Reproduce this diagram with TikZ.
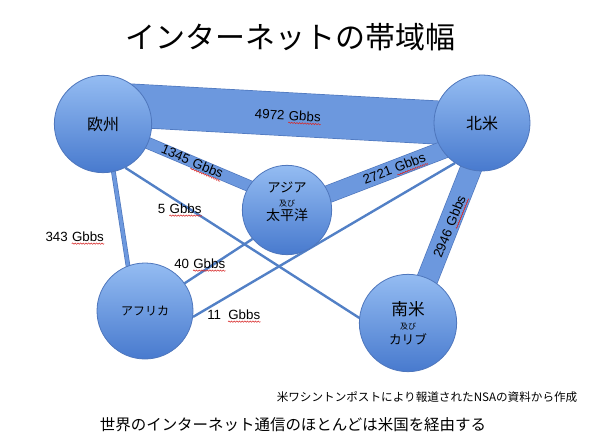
\documentclass[tikz,border=0pt]{standalone}
\usepackage{fontspec}
\setmainfont{Liberation Sans}
\newfontfamily\jp{Noto Sans CJK JP}
\usetikzlibrary{calc, backgrounds, decorations.pathmorphing}

\definecolor{rimblue}{RGB}{78,118,188}
\definecolor{topblue}{RGB}{148,188,242}
\definecolor{lowblue}{RGB}{72,122,206}
\definecolor{bandblue}{RGB}{108,152,222}
\definecolor{linkblue}{RGB}{82,128,198}
\definecolor{wavered}{RGB}{215,40,40}

\newcommand\gbbs{\tikz[baseline=(gword.base)]{\node[inner sep=0pt] (gword) {Gbbs};
    \draw[wavered, line width=0.4pt, decorate, decoration={snake, segment length=2pt, amplitude=0.5pt}]
    ([yshift=-1.6pt]gword.south west) -- ([yshift=-1.6pt]gword.south east);}}

\tikzset{
  region/.style={circle, draw=rimblue, line width=0.6pt, top color=topblue,
    bottom color=lowblue, minimum size=#1, inner sep=0pt, align=center},
  band/.style={draw=rimblue, line width=0.5pt, double=bandblue, double distance=#1},
  link/.style={draw=linkblue, line width=1.8pt},
  rate/.style={font=\fontsize{10}{12}\selectfont, inner sep=1pt}
}

\begin{document}
\begin{tikzpicture}[x=0.75pt, y=-0.75pt]
    \useasboundingbox (0,0) rectangle (599,445);

    % 表題
    \node[font=\jp\fontsize{22.5}{26}\selectfont] (title) at (290,37) {インターネットの帯域幅};

    % 地域
    \node[region=73pt, font=\jp\fontsize{12}{14}\selectfont] (eu) at (103,124) {欧州};
    \node[region=72pt, font=\jp\fontsize{12}{14}\selectfont] (na) at (482,123) {北米};
    \node[region=67pt] (asia) at (287,210) {};
    \node[font=\jp\fontsize{10}{10.5}\selectfont, align=center] (asiatext) at (287,202)
        {アジア\\{\fontsize{6}{10.5}\selectfont 及び}\\{\fontsize{10.5}{10.5}\selectfont 太平洋}};
    \node[region=72pt, font=\jp\fontsize{9}{11}\selectfont] (af) at (145,311) {アフリカ};
    \node[region=73pt, font=\jp\fontsize{9.5}{11}\selectfont] (sa) at (408,323)
        {{\fontsize{12.5}{11}\selectfont 南米}\\{\fontsize{6}{11}\selectfont 及び}\\カリブ};

    % 回線
    \begin{scope}[on background layer]
        \draw[band=32pt] ($(eu.center)+(0,-20)$) -- ($(na.center)+(0,2)$);
        \draw[band=8pt] (eu.center) -- ($(asia.center)+(0,-8)$);
        \draw[band=12.5pt] (asia.center) -- ($(na.center)+(0,12)$);
        \draw[band=15.5pt] ($(na.center)+(7,0)$) -- ($(sa.center)+(2,0)$);
        \draw[band=2.5pt] ($(eu.center)+(3,0)$) -- ($(af.center)+(-10,0)$);
        \draw[link] (eu.-63) -- (sa.174);
        \draw[link] (af.35) -- (asia.-140);
        \draw[link] (af.-7) -- (na.-124);
    \end{scope}

    % 帯域
    \node[rate, rotate=-3] (l4972) at (288,117) {4972 \gbbs};
    \node[rate, rotate=-23] (l1345) at (192,163) {1345 \gbbs};
    \node[rate, rotate=21] (l2721) at (395,170) {2721 \gbbs};
    \node[rate, rotate=68] (l2946) at (451,227) {2946 \gbbs};
    \node[rate] (l5) at (180,210) {5 \gbbs};
    \node[rate] (l343) at (75,238) {343 \gbbs};
    \node[rate] (l40) at (200,265) {40 \gbbs};
    \node[rate] (l11) at (234,316) {11\enspace\gbbs};

    % 注記
    \node[font=\jp\fontsize{8.7}{10}\selectfont, anchor=east] (src) at (582,397)
        {米ワシントンポストにより報道されたNSAの資料から作成};
    \node[font=\jp\fontsize{11.6}{14}\selectfont] (note) at (293,425)
        {世界のインターネット通信のほとんどは米国を経由する};
\end{tikzpicture}
\end{document}
